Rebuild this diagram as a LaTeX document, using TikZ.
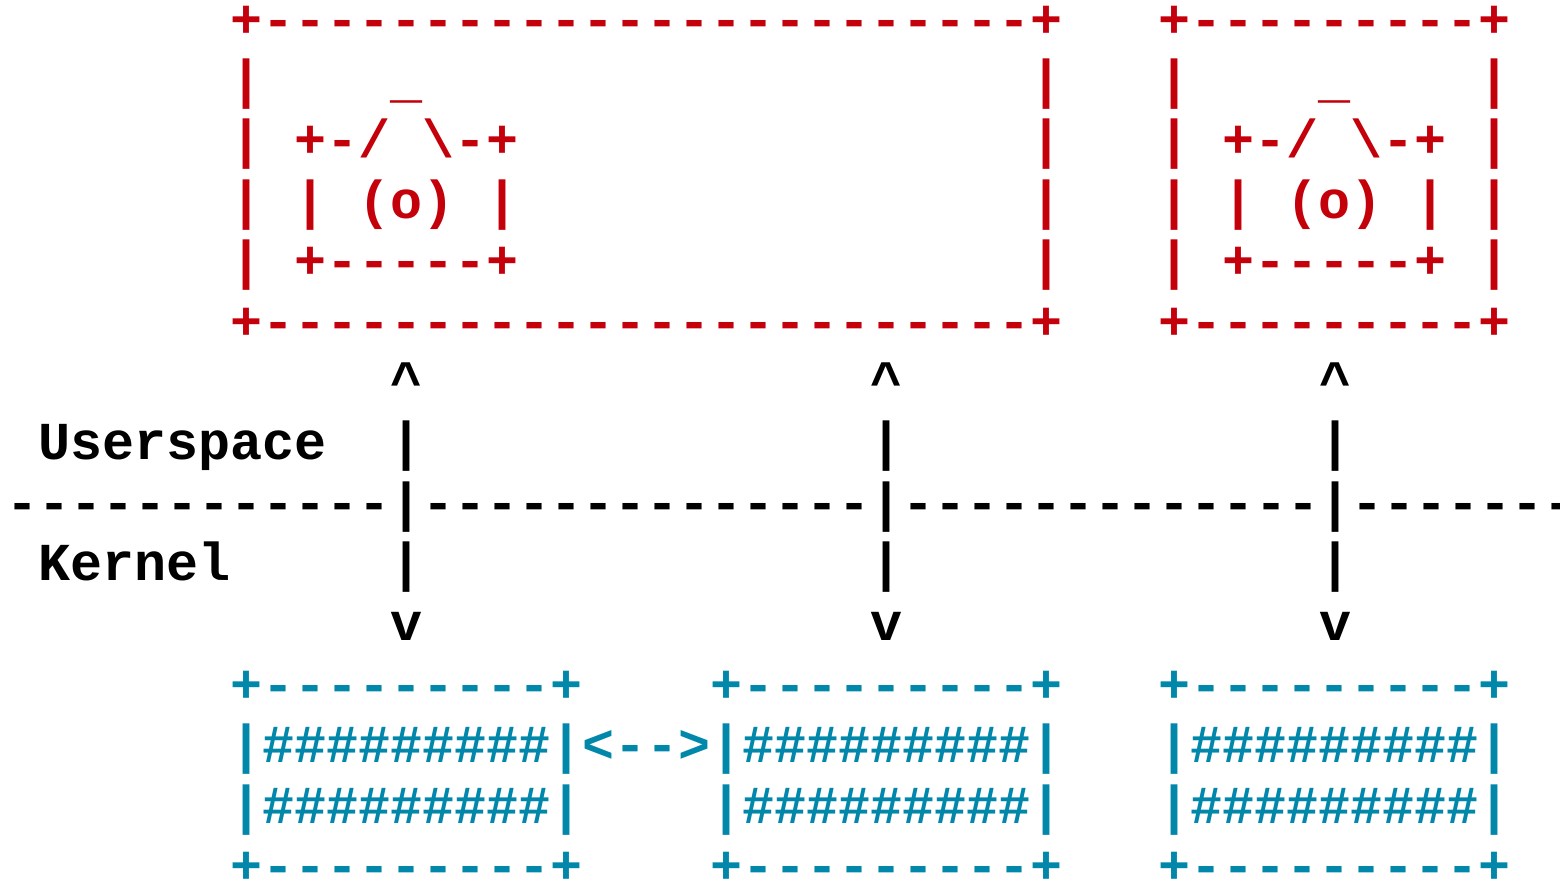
\documentclass[tikz,border=0pt]{standalone}
\usepackage{fontspec}
\setmonofont{Liberation Mono}
\usepackage{color}
\definecolor{asciired}{RGB}{196,0,10}
\definecolor{asciiblue}{RGB}{0,135,170}
\tikzset{ascii/.style={inner sep=0pt,outer sep=0pt,anchor=base west,align=left,font=\fontsize{47.46pt}{53.72pt}\selectfont\ttfamily\bfseries}}
\begin{document}
\begin{tikzpicture}
\useasboundingbox (0,0) rectangle (48.75,-27.5625);
\node[ascii, asciired] (boxa) at (7.1875,-10.6) {+------------------------+\\
|~~~~\_~~~~~~~~~~~~~~~~~~~|\\
|~+-/~\textbackslash-+~~~~~~~~~~~~~~~~|\\
|~|~(o)~|~~~~~~~~~~~~~~~~|\\
|~+-----+~~~~~~~~~~~~~~~~|\\
+------------------------+};
\node[ascii, asciired] (boxb) at (36.2,-10.6) {+---------+\\
|~~~~\_~~~~|\\
|~+-/~\textbackslash-+~|\\
|~|~(o)~|~|\\
|~+-----+~|\\
+---------+};
\node[ascii, black] (ruler) at (0.1875,-20.03) {~~~~~~~~~~~~\textasciicircum~~~~~~~~~~~~~~\textasciicircum~~~~~~~~~~~~~\textasciicircum\\
~Userspace~~|~~~~~~~~~~~~~~|~~~~~~~~~~~~~|\\
------------|--------------|-------------|-------\\
~Kernel~~~~~|~~~~~~~~~~~~~~|~~~~~~~~~~~~~|\\
~~~~~~~~~~~~v~~~~~~~~~~~~~~v~~~~~~~~~~~~~v};
\node[ascii, asciiblue] (bufa) at (7.1875,-27.61) {+---------+\\
|\#\#\#\#\#\#\#\#\#|\\
|\#\#\#\#\#\#\#\#\#|\\
+---------+};
\node[ascii, asciiblue] (bufb) at (22.1875,-27.61) {+---------+\\
|\#\#\#\#\#\#\#\#\#|\\
|\#\#\#\#\#\#\#\#\#|\\
+---------+};
\node[ascii, asciiblue] (bufc) at (36.2,-27.61) {+---------+\\
|\#\#\#\#\#\#\#\#\#|\\
|\#\#\#\#\#\#\#\#\#|\\
+---------+};
\node[ascii, asciiblue] (link) at (18.1875,-23.83) {<-->};
\end{tikzpicture}
\end{document}
